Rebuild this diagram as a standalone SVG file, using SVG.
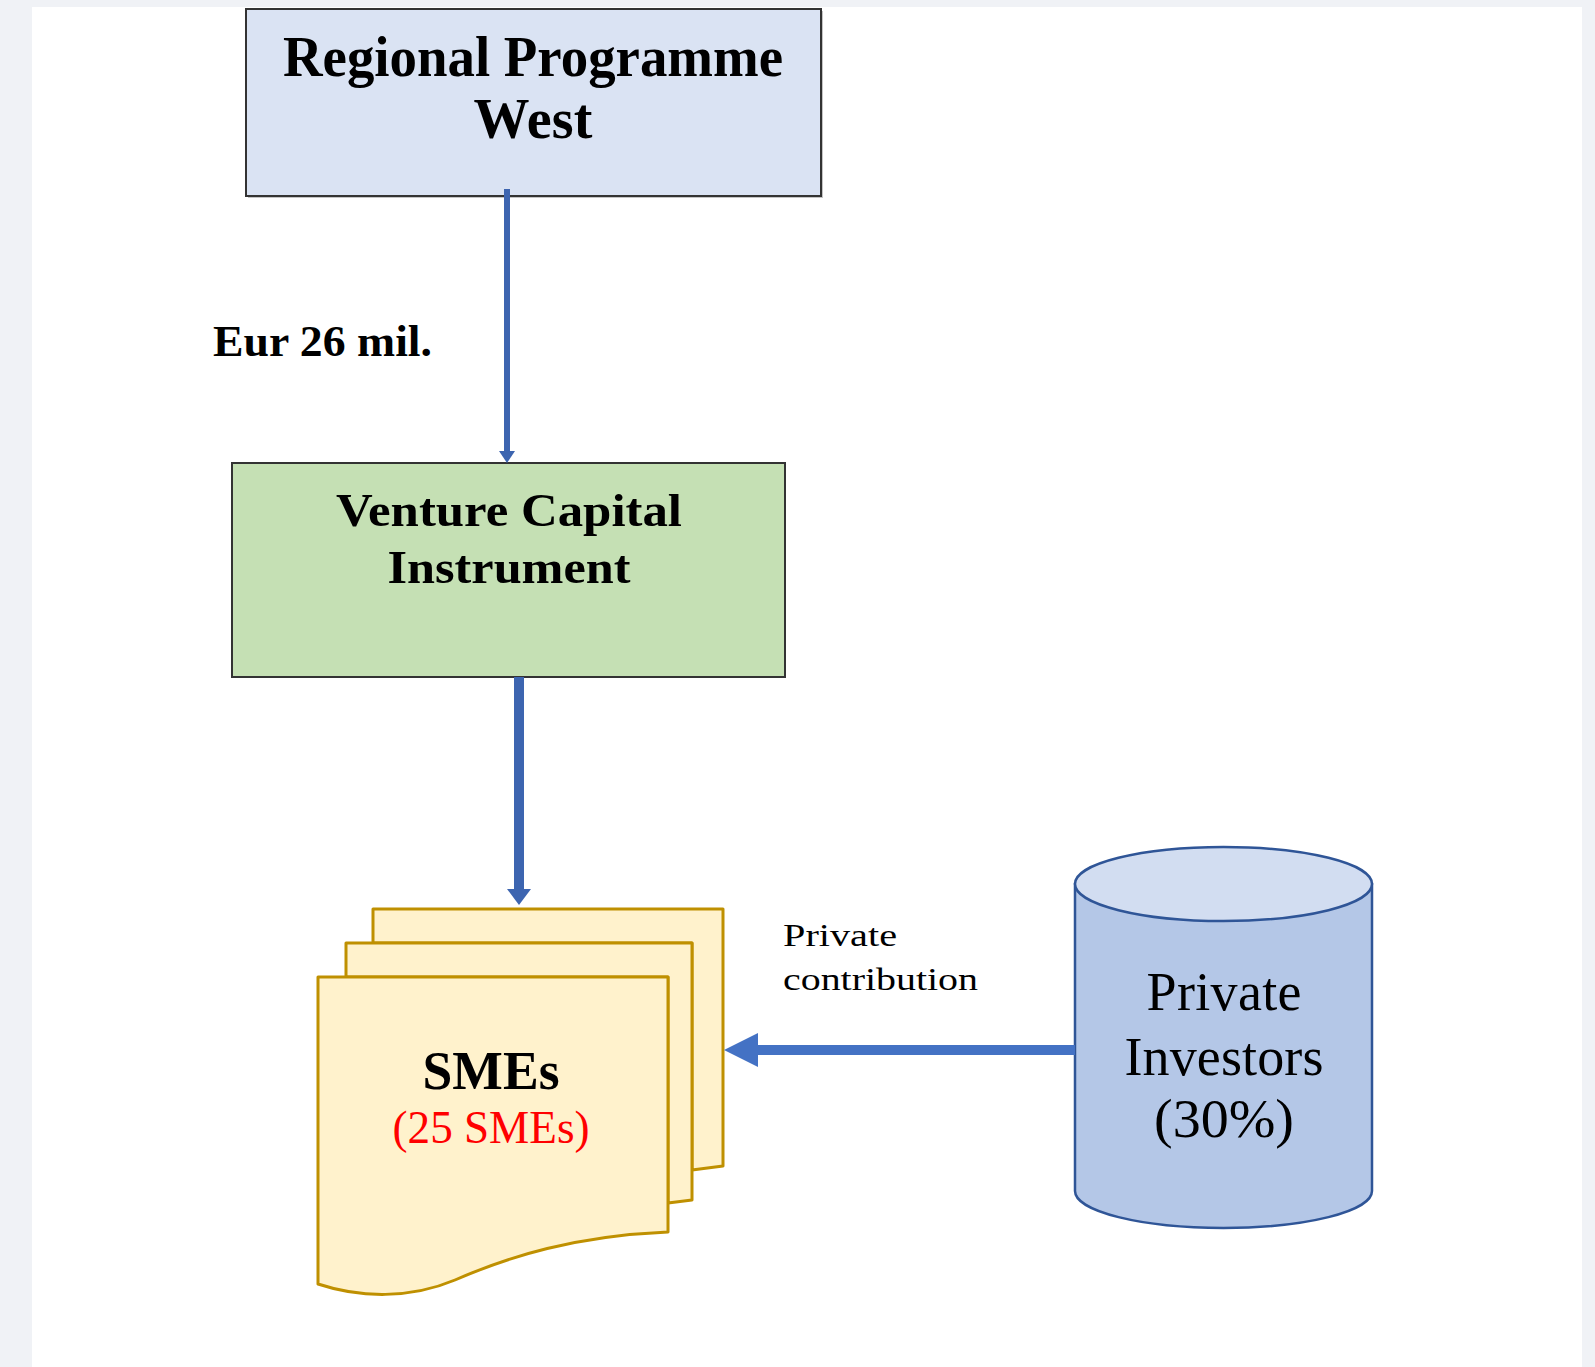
<svg xmlns="http://www.w3.org/2000/svg" width="1595" height="1367" viewBox="0 0 1595 1367">
<style>
.tb{font-family:"Liberation Serif","Times New Roman",serif;font-weight:bold;fill:#000}
.tr{font-family:"Liberation Serif","Times New Roman",serif;fill:#000}
.box{stroke:#333;stroke-width:2}
.doc{fill:#fff2cc;stroke:#bf9000;stroke-width:3;stroke-linejoin:round}
.conn{stroke:#3d65b0;fill:none}
</style>
<rect width="1595" height="1367" fill="#f0f2f6"/>
<rect x="32" y="7" width="1550" height="1360" fill="#fff"/>

<g id="node-regional">
<rect x="248" y="11" width="575" height="187" fill="#8a8a8a" opacity="0.5"/>
<rect class="box" x="246" y="9" width="575" height="187" fill="#dae3f3"/>
<text class="tb" x="533" y="76" font-size="56" text-anchor="middle" textLength="500" lengthAdjust="spacingAndGlyphs">Regional Programme</text>
<text class="tb" x="533" y="138" font-size="56" text-anchor="middle" textLength="119" lengthAdjust="spacing">West</text>
</g>

<g id="label-eur">
<text class="tb" x="213" y="356" font-size="45" textLength="219" lengthAdjust="spacingAndGlyphs">Eur 26 mil.</text>
</g>

<g id="node-vci">
<rect class="box" x="232" y="463" width="553" height="214" fill="#c5e0b4"/>
<text class="tb" x="509" y="526" font-size="46" text-anchor="middle" textLength="346" lengthAdjust="spacingAndGlyphs">Venture Capital</text>
<text class="tb" x="509" y="583" font-size="46" text-anchor="middle" textLength="243" lengthAdjust="spacingAndGlyphs">Instrument</text>
</g>

<g id="node-smes">
<path class="doc" d="M373,943 V909 H723 V1166 L692,1170 V943 Z"/>
<path class="doc" d="M346,977 V943 H692 V1200 L668,1203 V977 Z"/>
<path class="doc" d="M318,977 H668 V1232 C575,1236 510,1256 455,1280 C410,1299 360,1298 318,1284 Z"/>
<text class="tb" x="491" y="1089" font-size="54" text-anchor="middle" textLength="137" lengthAdjust="spacingAndGlyphs">SMEs</text>
<text class="tr" x="491" y="1143" font-size="47" text-anchor="middle" style="fill:#ff0000" textLength="197" lengthAdjust="spacingAndGlyphs">(25 SMEs)</text>
</g>

<g id="node-investors">
<path d="M1075,884 V1191 A148.5,37 0 0 0 1372,1191 V884 Z" fill="#b4c7e7" stroke="#2f5597" stroke-width="2.5"/>
<ellipse cx="1223.5" cy="884" rx="148.5" ry="37" fill="#d2ddf1" stroke="#2f5597" stroke-width="2.5"/>
<text class="tr" x="1224" y="1010" font-size="54" text-anchor="middle" textLength="155" lengthAdjust="spacing">Private</text>
<text class="tr" x="1224" y="1075" font-size="54" text-anchor="middle" textLength="199" lengthAdjust="spacing">Investors</text>
<text class="tr" x="1224" y="1137" font-size="54" text-anchor="middle" textLength="140" lengthAdjust="spacingAndGlyphs">(30%)</text>
</g>

<g id="label-private">
<text class="tr" x="783" y="946" font-size="32" textLength="114" lengthAdjust="spacingAndGlyphs">Private</text>
<text class="tr" x="783" y="990" font-size="32" textLength="195" lengthAdjust="spacingAndGlyphs">contribution</text>
</g>

<g id="connectors">
<line class="conn" x1="507" y1="189" x2="507" y2="454" stroke-width="6"/>
<path d="M499,451 L515,451 L507,463 Z" fill="#3d65b0"/>
<line class="conn" x1="519" y1="677" x2="519" y2="893" stroke-width="10"/>
<path d="M507,889 L531,889 L519,905 Z" fill="#3d65b0"/>
<line x1="1075" y1="1050" x2="752" y2="1050" stroke="#4472c4" stroke-width="10"/>
<path d="M724,1050 L758,1033 L758,1067 Z" fill="#4472c4"/>
</g>
</svg>
